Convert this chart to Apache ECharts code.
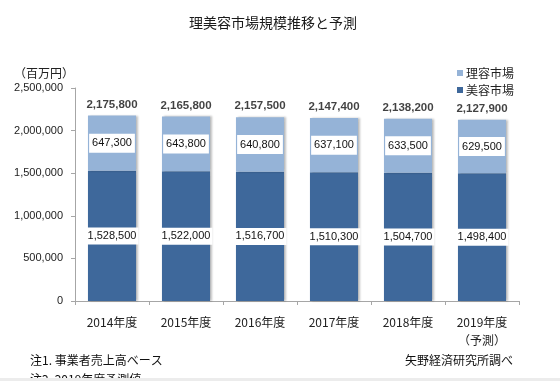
<!DOCTYPE html>
<html>
<head>
<meta charset="utf-8">
<script src="https://cdn.jsdelivr.net/npm/echarts@6/dist/echarts.min.js"></script>
<style>
html,body{margin:0;padding:0;background:#fff;}
#c{width:560px;height:381px;}
</style>
</head>
<body>
<div id="c"></div>
<script>
var categories = ['2014年度', '2015年度', '2016年度', '2017年度', '2018年度', '2019年度\n（予測）'];
var biyou = [1528500, 1522000, 1516700, 1510300, 1504700, 1498400];
var riyou = [647300, 643800, 640800, 637100, 633500, 629500];
var totals = [2175800, 2165800, 2157500, 2147400, 2138200, 2127900];
var yTicks = [0, 500000, 1000000, 1500000, 2000000, 2500000];

var NUM = '"Liberation Sans", Arial, sans-serif';
var JP = '"Noto Sans CJK JP", sans-serif';
function fmt(v) { return Number(v).toLocaleString('en-US'); }

var chart = echarts.init(document.getElementById('c'), null, {renderer: 'canvas'});
chart.setOption({
  animation: false,
  backgroundColor: '#ffffff',
  title: [
    {text: '理美容市場規模推移と予測', left: 268, top: 11, textAlign: 'center',
     textStyle: {fontFamily: JP, fontSize: 14, fontWeight: 'normal', color: '#1a1a1a'}},
    {text: '（百万円）', left: 9, top: 62,
     textStyle: {fontFamily: JP, fontSize: 12, fontWeight: 'normal', color: '#222'}},
    {text: '注1. 事業者売上高ベース', left: 25, top: 349,
     textStyle: {fontFamily: JP, fontSize: 12, fontWeight: 'normal', color: '#111'}},
    {text: '注2. 2019年度予測値', left: 25, top: 368,
     textStyle: {fontFamily: JP, fontSize: 12, fontWeight: 'normal', color: '#111'}},
    {text: '矢野経済研究所調べ', left: 400, top: 349,
     textStyle: {fontFamily: JP, fontSize: 12, fontWeight: 'normal', color: '#111'}}
  ],
  graphic: [
    {type: 'rect', left: 0, top: 378, shape: {width: 560, height: 3}, style: {fill: '#ececec'}, z: 100}
  ],
  legend: {
    data: ['理容市場', '美容市場'],
    orient: 'vertical',
    left: 452, top: 62,
    icon: 'rect', itemWidth: 6, itemHeight: 6, itemGap: 5,
    textStyle: {fontFamily: JP, fontSize: 12, color: '#222', padding: [0, 0, 0, -2]}
  },
  grid: {left: 75, right: 41, top: 88, bottom: 80, containLabel: false},
  xAxis: {
    type: 'category',
    data: categories,
    axisLine: {lineStyle: {color: '#A6A6A6'}},
    axisTick: {show: true, length: 4, alignWithLabel: false, lineStyle: {color: '#A6A6A6'}},
    axisLabel: {fontFamily: JP, fontSize: 12, color: '#222', margin: 12, lineHeight: 18, interval: 0}
  },
  yAxis: {
    type: 'value',
    min: yTicks[0], max: yTicks[yTicks.length - 1], interval: yTicks[1] - yTicks[0],
    splitLine: {show: false},
    axisLine: {show: true, lineStyle: {color: '#A6A6A6'}},
    axisTick: {show: true, length: 4, lineStyle: {color: '#A6A6A6'}},
    axisLabel: {fontFamily: NUM, fontSize: 11, color: '#222', margin: 12, formatter: fmt}
  },
  series: [
    {
      name: '美容市場', type: 'bar', stack: 'total', data: biyou,
      barCategoryGap: '35%',
      itemStyle: {color: '#3E689B', shadowColor: 'rgba(0,0,0,0.25)', shadowOffsetX: 2, shadowBlur: 2},
      label: {show: true, position: 'inside', formatter: function (p) { return fmt(p.value); },
        fontFamily: NUM, fontSize: 11, color: '#111', backgroundColor: '#ffffff', padding: [3, 2]}
    },
    {
      name: '理容市場', type: 'bar', stack: 'total', data: riyou,
      barCategoryGap: '35%',
      itemStyle: {color: '#95B3D7', shadowColor: 'rgba(0,0,0,0.25)', shadowOffsetX: 2, shadowBlur: 2},
      label: {show: true, position: 'inside', formatter: function (p) { return fmt(p.value); },
        fontFamily: NUM, fontSize: 11, color: '#111', backgroundColor: '#ffffff', padding: [4, 3]}
    },
    {
      name: '合計', type: 'scatter', data: totals, symbolSize: 0, silent: true,
      label: {show: true, position: 'top', distance: 5, formatter: function (p) { return fmt(p.value); },
        fontFamily: NUM, fontSize: 11.5, fontWeight: 'bold', color: '#111'}
    }
  ]
});
</script>
</body>
</html>
